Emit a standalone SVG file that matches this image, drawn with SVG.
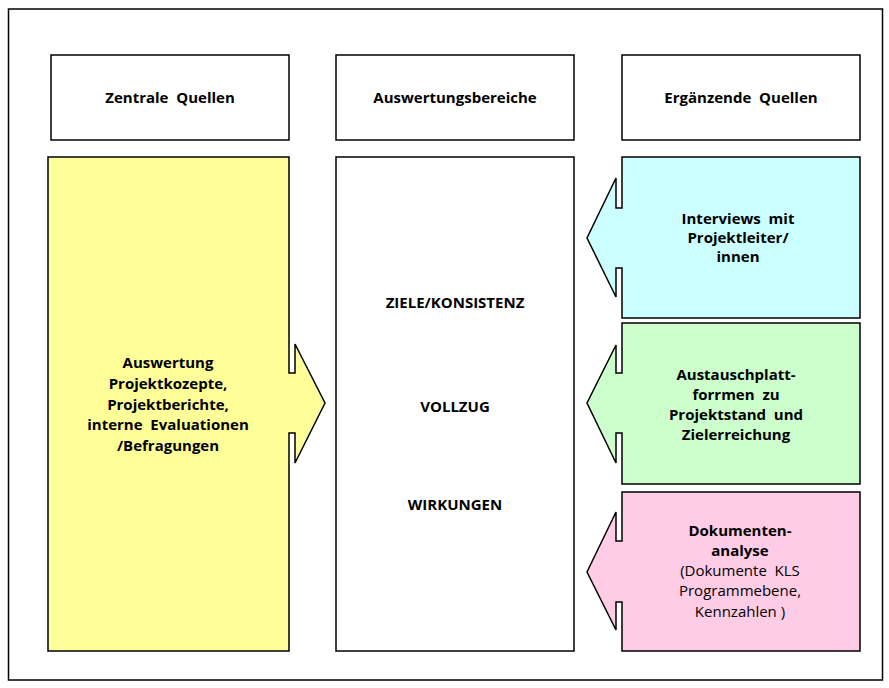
<svg xmlns="http://www.w3.org/2000/svg" width="889" height="688" viewBox="0 0 889 688">
<style>
.box{stroke:#000;stroke-width:1.5;stroke-linejoin:miter}
.t{font-family:"Open Sans","DejaVu Sans",sans-serif;font-size:15px;font-weight:bold;fill:#000;text-anchor:middle}
.n{font-weight:normal}
</style>
<rect x="0" y="0" width="889" height="688" fill="#fff"/>
<rect id="frame" x="8.5" y="9" width="874" height="671" fill="none" stroke="#000" stroke-width="1.5"/>
<g id="h1"><rect class="box" x="51" y="55" width="238" height="85" fill="#fff"/><text class="t" x="170" y="103" xml:space="preserve">Zentrale  Quellen</text></g>
<g id="h2"><rect class="box" x="336" y="55" width="238" height="85" fill="#fff"/><text class="t" x="455" y="103">Auswertungsbereiche</text></g>
<g id="h3"><rect class="box" x="622" y="55" width="238" height="85" fill="#fff"/><text class="t" x="741" y="103" xml:space="preserve">Ergänzende  Quellen</text></g>
<g id="zentral">
<path class="box" fill="#FFFF99" d="M48,157 H289 V373 H295 V344 L325,403 L295,463 V433 H289 V651 H48 Z"/>
<text class="t" x="168" y="368">Auswertung</text>
<text class="t" x="168" y="389">Projektkozepte,</text>
<text class="t" x="168" y="410">Projektberichte,</text>
<text class="t" x="168" y="430" xml:space="preserve">interne  Evaluationen</text>
<text class="t" x="168" y="451">/Befragungen</text>
</g>
<g id="bereiche">
<rect class="box" x="336" y="157" width="238" height="494" fill="#fff"/>
<text class="t" x="455" y="308">ZIELE/KONSISTENZ</text>
<text class="t" x="455" y="412">VOLLZUG</text>
<text class="t" x="455" y="510">WIRKUNGEN</text>
</g>
<g id="interviews">
<path class="box" fill="#CCFFFF" d="M622,157 H860 V318 H622 V268 H616 V297 L587,238 L616,178 V208 H622 Z"/>
<text class="t" x="738" y="224" xml:space="preserve">Interviews  mit</text>
<text class="t" x="738" y="243">Projektleiter/</text>
<text class="t" x="738" y="262">innen</text>
</g>
<g id="austausch">
<path class="box" fill="#CCFFCC" d="M622,323 H860 V484 H622 V433 H616 V463 L587,403 L616,345 V373 H622 Z"/>
<text class="t" x="736" y="380">Austauschplatt-</text>
<text class="t" x="736" y="400" xml:space="preserve">forrmen  zu</text>
<text class="t" x="736" y="420" xml:space="preserve">Projektstand  und</text>
<text class="t" x="736" y="440">Zielerreichung</text>
</g>
<g id="dokumente">
<path class="box" fill="#FFCCE6" d="M622,492 H860 V651 H622 V602 H616 V630 L587,572 L616,512 V541 H622 Z"/>
<text class="t" x="740" y="536">Dokumenten-</text>
<text class="t" x="740" y="556">analyse</text>
<text class="t n" x="740" y="576" xml:space="preserve">(Dokumente  KLS</text>
<text class="t n" x="740" y="596">Programmebene,</text>
<text class="t n" x="740" y="617">Kennzahlen )</text>
</g>
<g id="connectors"></g>
</svg>
